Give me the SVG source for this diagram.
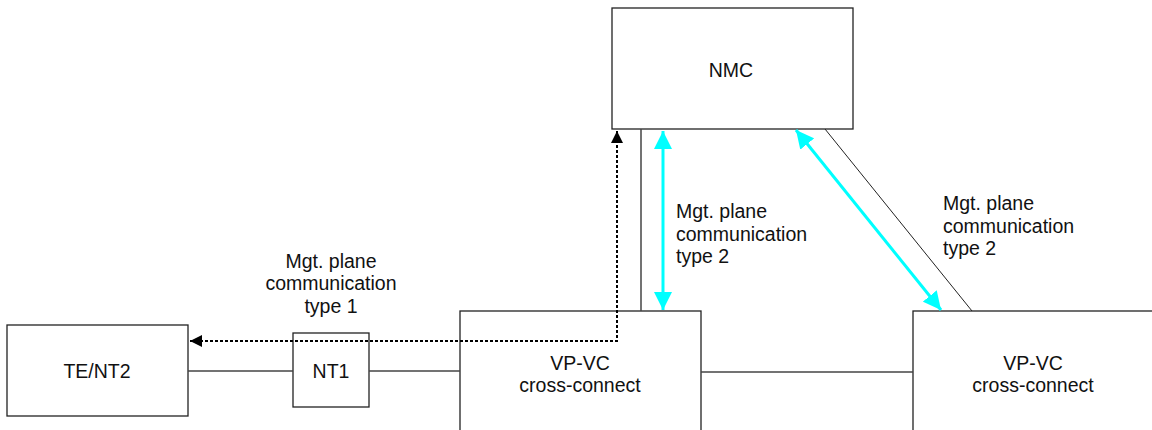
<svg xmlns="http://www.w3.org/2000/svg" width="1152" height="430" viewBox="0 0 1152 430">
<style>
.box{fill:#fff;stroke:#222;stroke-width:1.3}
.ln{stroke:#444;stroke-width:1.5;fill:none}
.thin{stroke:#222;stroke-width:1;fill:none}
.cy{stroke:#00ffff;stroke-width:3;fill:none}
.dot{stroke:#000;stroke-width:2;fill:none;stroke-dasharray:3,2}
text{font-family:"Liberation Sans",Arial,sans-serif;font-size:19.5px;fill:#111}
.c{text-anchor:middle}
</style>
<defs>
<marker id="ca" viewBox="0 0 10 10" refX="10" refY="5" markerWidth="6" markerHeight="6" orient="auto-start-reverse" markerUnits="strokeWidth">
<path d="M0,0L10,5L0,10z" fill="#00ffff"/>
</marker>
<marker id="ka" viewBox="0 0 10 10" refX="10" refY="5" markerWidth="6" markerHeight="6" orient="auto-start-reverse" markerUnits="strokeWidth">
<path d="M0,0L10,5L0,10z" fill="#000"/>
</marker>
</defs>
<g id="nmc">
<rect class="box" x="612" y="8" width="241" height="121"/>
<text class="c" x="731" y="77">NMC</text>
</g>
<g id="tent2">
<rect class="box" x="7" y="325" width="181" height="91"/>
<text class="c" x="97" y="378">TE/NT2</text>
</g>
<g id="nt1">
<rect class="box" x="293" y="333" width="76" height="74"/>
<text class="c" x="331" y="378">NT1</text>
</g>
<g id="vpvc1">
<rect class="box" x="460" y="311" width="241" height="125"/>
<text class="c" x="580" y="370">VP-VC</text>
<text class="c" x="580" y="392">cross-connect</text>
</g>
<g id="vpvc2">
<rect class="box" x="913" y="311" width="245" height="125"/>
<text class="c" x="1033" y="370">VP-VC</text>
<text class="c" x="1033" y="392">cross-connect</text>
</g>
<g id="connectors">
<line class="ln" x1="188" y1="371" x2="293" y2="371"/>
<line class="ln" x1="369" y1="371" x2="460" y2="371"/>
<line class="ln" x1="701" y1="372" x2="913" y2="372"/>
<line class="ln" x1="641" y1="129" x2="641" y2="311"/>
<line class="thin" x1="825" y1="129" x2="972" y2="311"/>
<line class="cy" x1="663" y1="131" x2="663" y2="310" marker-start="url(#ca)" marker-end="url(#ca)"/>
<line class="cy" x1="796" y1="130" x2="941" y2="310" marker-start="url(#ca)" marker-end="url(#ca)"/>
<path class="dot" d="M190,341 L617,341 L617,131" marker-start="url(#ka)" marker-end="url(#ka)"/>
</g>
<g id="labels">
<text class="c" x="331" y="268">Mgt. plane</text>
<text class="c" x="331" y="290">communication</text>
<text class="c" x="331" y="313">type 1</text>
<text x="676" y="218">Mgt. plane</text>
<text x="676" y="241">communication</text>
<text x="676" y="263">type 2</text>
<text x="943" y="210">Mgt. plane</text>
<text x="943" y="233">communication</text>
<text x="943" y="255">type 2</text>
</g>
</svg>
